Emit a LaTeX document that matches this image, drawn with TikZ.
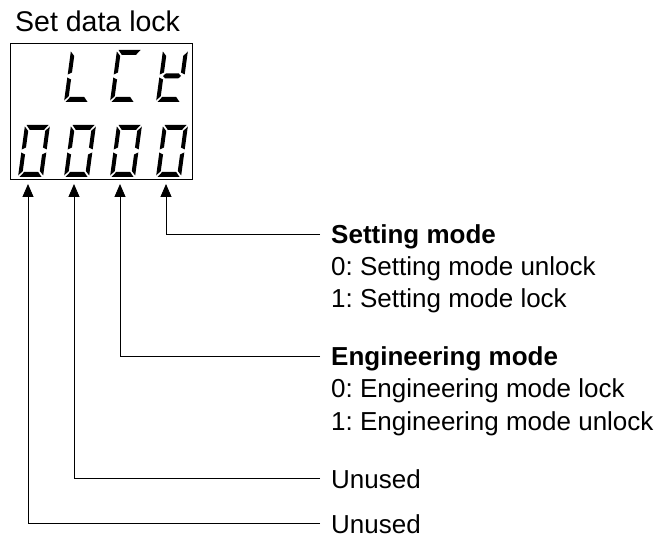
\documentclass[tikz,border=0pt]{standalone}
\usepackage{fontspec}
\setmainfont{Liberation Sans}
\usetikzlibrary{arrows.meta}
\newcommand{\sgA}{\fill (1.5,52) -- (23.5,52) -- (19.5,47) -- (5.5,47) -- cycle;}
\newcommand{\sgD}{\fill (1.5,0) -- (23.5,0) -- (19.5,5) -- (5.5,5) -- cycle;}
\newcommand{\sgG}{\fill (3.5,26) -- (6,28.5) -- (19,28.5) -- (21.5,26) -- (19,23.5) -- (6,23.5) -- cycle;}
\newcommand{\sgF}{\fill (0,50.5) -- (4,46) -- (4,29.5) -- (0,27.5) -- cycle;}
\newcommand{\sgE}{\fill (0,1.5) -- (4,6) -- (4,22.5) -- (0,24.5) -- cycle;}
\newcommand{\sgB}{\fill (25,50.5) -- (21,46) -- (21,29.5) -- (25,27.5) -- cycle;}
\newcommand{\sgC}{\fill (25,1.5) -- (21,6) -- (21,22.5) -- (25,24.5) -- cycle;}
\newcommand{\digit}[3]{\begin{scope}[shift={(#1,#2)},xslant=0.135]#3\end{scope}}
\frenchspacing
\begin{document}
\begin{tikzpicture}[x=1pt,y=1pt,
  lbl/.style={anchor=base west,inner sep=0pt,font=\fontsize{26}{32}\selectfont},
  ttl/.style={lbl,font=\fontsize{26}{32}\selectfont\bfseries},
  conn/.style={line width=0.9pt,-{Triangle[length=13pt,width=11pt]}}]
\useasboundingbox (0,0) rectangle (662,539);
% title and display
\node[anchor=base west,inner sep=0pt,font=\fontsize{28.5}{34}\selectfont] (title) at (15,507) {Set data lock};
\node[draw,line width=1pt,minimum width=182pt,minimum height=136pt,inner sep=0pt] (disp) at (101,427) {};
% top row: L C t
\digit{64}{437}{\sgF\sgE\sgD}
\digit{110}{437}{\sgA\sgF\sgE\sgD}
\digit{156}{437}{\sgF\sgB\sgG\sgE\sgD}
% bottom row: 0000
\digit{18}{362}{\sgA\sgB\sgC\sgD\sgE\sgF}
\digit{64}{362}{\sgA\sgB\sgC\sgD\sgE\sgF}
\digit{110}{362}{\sgA\sgB\sgC\sgD\sgE\sgF}
\digit{156}{362}{\sgA\sgB\sgC\sgD\sgE\sgF}
% arrow tips
\coordinate (t1) at (28,355);
\coordinate (t2) at (74,355);
\coordinate (t3) at (120,355);
\coordinate (t4) at (166,355);
% labels
\node[ttl] (sm) at (331,295) {Setting mode};
\node[lbl] (sm0) at (331,263) {0: Setting mode unlock};
\node[lbl] (sm1) at (331,231) {1: Setting mode lock};
\node[ttl] (em) at (331,173) {Engineering mode};
\node[lbl] (em0) at (331,141) {0: Engineering mode lock};
\node[lbl] (em1) at (331,109) {1: Engineering mode unlock};
\node[lbl] (u2) at (331,51) {Unused};
\node[lbl] (u1) at (331,6) {Unused};
% connectors
\draw[conn] ([xshift=-11pt,yshift=10pt]sm.base west) -| (t4);
\draw[conn] ([xshift=-11pt,yshift=10pt]em.base west) -| (t3);
\draw[conn] ([xshift=-11pt,yshift=10pt]u2.base west) -| (t2);
\draw[conn] ([xshift=-11pt,yshift=10pt]u1.base west) -| (t1);
\end{tikzpicture}
\end{document}
